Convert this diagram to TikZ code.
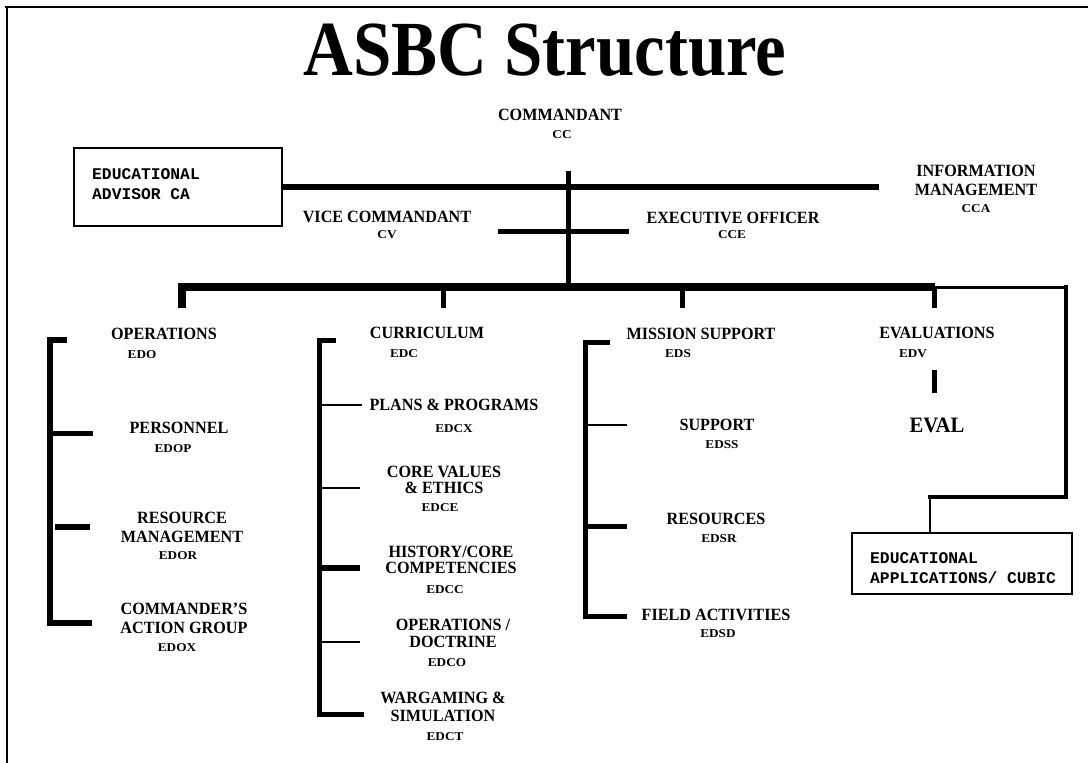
\documentclass[tikz,border=0pt]{standalone}
\usepackage{fontspec}
\usetikzlibrary{calc}
\setmainfont{Liberation Serif}
\newfontfamily\labelfont[FakeStretch=0.94]{Liberation Serif}
\newfontfamily\codefont[FakeStretch=1.1]{Liberation Serif}
\newfontfamily\boxfont{Liberation Mono}

\tikzset{
  lbl/.style={font=\labelfont\bfseries\fontsize{17.2}{19}\selectfont, align=center, inner sep=0pt, anchor=north},
  tightlbl/.style={lbl, font=\labelfont\bfseries\fontsize{17.2}{#1}\selectfont},
  code/.style={font=\codefont\bfseries\fontsize{12}{14}\selectfont, inner sep=0pt, anchor=north},
  boxtext/.style={font=\boxfont\bfseries\fontsize{16.3}{20}\selectfont, align=left, inner sep=0pt, anchor=north west},
  unitbox/.style={draw, line width=2.5pt, inner sep=0pt},
  heavy/.style={line width=7.5pt},
  thick5/.style={line width=5pt},
  thin3/.style={line width=2.5pt},
}

\begin{document}
\begin{tikzpicture}[x=1pt, y=-1pt, line cap=butt, line join=miter]
\useasboundingbox (0,0) rectangle (1088,763);
\fill[white] (0,0) rectangle (1088,763);

% page frame (top and left edges)
\draw[line width=2pt] (5,7) -- (1088,7);
\draw[line width=2pt] (7,7) -- (7,763);

% title
\node[font=\labelfont\bfseries\fontsize{78}{80}\selectfont, inner sep=0pt, anchor=base] (title) at (545,75) {\scalebox{0.94}[1]{ASBC Structure}};

% command group
\node[lbl] (cmd) at (560,109.3) {COMMANDANT};
\node[code] (cmdc) at (562,130) {CC};
\node[lbl] (vc) at (387,211.3) {VICE COMMANDANT};
\node[code] (vcc) at (387,230) {CV};
\node[lbl] (xo) at (733,212.3) {EXECUTIVE OFFICER};
\node[code] (xoc) at (732,230) {CCE};
\node[lbl] (im) at (976,165.3) {INFORMATION\\MANAGEMENT};
\node[code] (imc) at (976,204) {CCA};

\node[unitbox, minimum width=208pt, minimum height=78pt] (adv) at (178,187) {};
\node[boxtext] (advt) at (92,168.7) {EDUCATIONAL\\ADVISOR CA};

% operations
\node[lbl] (ops) at (164,328.3) {OPERATIONS};
\node[code] (opsc) at (142,350) {EDO};
\node[lbl] (pers) at (179,422.3) {PERSONNEL};
\node[code] (persc) at (173,444) {EDOP};
\node[lbl] (resm) at (182,512.3) {RESOURCE\\MANAGEMENT};
\node[code] (resmc) at (178,551) {EDOR};
\node[lbl] (cag) at (184,603.3) {COMMANDER’S\\ACTION GROUP};
\node[code] (cagc) at (177,643) {EDOX};

% curriculum
\node[lbl] (cur) at (427,327.3) {CURRICULUM};
\node[code] (curc) at (404,349) {EDC};
\node[lbl] (plans) at (454,399.3) {PLANS \& PROGRAMS};
\node[code] (plansc) at (454,424) {EDCX};
\node[tightlbl=16] (core) at (444,466.3) {CORE VALUES\\\& ETHICS};
\node[code] (corec) at (440,503) {EDCE};
\node[tightlbl=16] (hist) at (451,546.3) {HISTORY/CORE\\COMPETENCIES};
\node[code] (histc) at (445,585) {EDCC};
\node[tightlbl=16.5] (doc) at (453,619.3) {OPERATIONS /\\DOCTRINE};
\node[code] (docc) at (447,658) {EDCO};
\node[tightlbl=17.5] (war) at (443,692.3) {WARGAMING \&\\SIMULATION};
\node[code] (warc) at (445,732) {EDCT};

% mission support
\node[lbl] (ms) at (701,328.3) {MISSION SUPPORT};
\node[code] (msc) at (678,349) {EDS};
\node[lbl] (sup) at (717,419.3) {SUPPORT};
\node[code] (supc) at (722,440) {EDSS};
\node[lbl] (res) at (716,513.3) {RESOURCES};
\node[code] (resc) at (719,534) {EDSR};
\node[lbl] (fa) at (716,609.3) {FIELD ACTIVITIES};
\node[code] (fac) at (718,629) {EDSD};

% evaluations
\node[lbl] (ev) at (937,327.3) {EVALUATIONS};
\node[code] (evc) at (913,349) {EDV};
\node[font=\labelfont\bfseries\fontsize{22}{24}\selectfont, inner sep=0pt, anchor=north] (eval) at (937,418) {EVAL};

\node[unitbox, minimum width=220pt, minimum height=61pt] (cubic) at (962,563.5) {};
\node[boxtext] (cubict) at (870,552.5) {EDUCATIONAL\\APPLICATIONS/ CUBIC};

% junction points of the chart
\coordinate (trunkTop) at (568,171);
\coordinate (busL) at (178,287);
\coordinate (busR) at (935,287);
\coordinate (imEnd) at (879,187);
\coordinate (xoL) at (498,231);
\coordinate (xoR) at (629,231);
\coordinate (rTop) at (1066,287);
\coordinate (rBot) at (1066,497);
\coordinate (drop) at (930,497);

% upper connectors
\draw[thick5] (trunkTop) -- (trunkTop |- busL);
\draw[line width=6pt] (adv.east) -- (adv.east -| imEnd);
\draw[thick5] (xoL) -- (xoR);
\draw[heavy] (busL) -- (busR);

% side branch to educational applications
\draw[line width=3pt] (busR) -- (rTop);
\draw[line width=4.5pt, line cap=rect] (rTop) -- (rBot) -- (drop);
\draw[thin3] (drop) -- (drop |- cubic.north);

% drops from the bus to each directorate
\draw[line width=8pt] (182,287) -- (182,308);
\draw[thick5] (443,287) -- (443,308);
\draw[thick5] (682,287) -- (682,308);
\draw[thick5] (934,287) -- (934,308);

% operations bracket
\coordinate (opsTop) at (50,340);
\coordinate (opsBot) at (50,623);
\draw[line width=6pt] ($(opsTop)+(17,0)$) -- (opsTop) -- (opsBot) -- ++(42,0);
\draw[thick5] (50,433) -- (93,433);
\draw[line width=6pt] (55,527) -- (90,527);

% curriculum bracket
\coordinate (curTop) at (319,340);
\coordinate (curBot) at (319,714);
\draw[thick5] ($(curTop)+(17,0)$) -- (curTop) -- (curBot) -- ++(45,0);
\draw[thin3] (319,405) -- (362,405);
\draw[thin3] (319,488) -- (360,488);
\draw[line width=6pt] (319,568) -- (360,568);
\draw[thin3] (319,642) -- (360,642);

% mission support bracket
\coordinate (msTop) at (585,342);
\coordinate (msBot) at (585,616);
\draw[thick5] ($(msTop)+(25,0)$) -- (msTop) -- (msBot) -- ++(42,0);
\draw[thin3] (585,425) -- (627,425);
\draw[thick5] (585,526) -- (627,526);

% evaluations link
\draw[thick5] (934,370) -- (934,393);
\end{tikzpicture}
\end{document}
